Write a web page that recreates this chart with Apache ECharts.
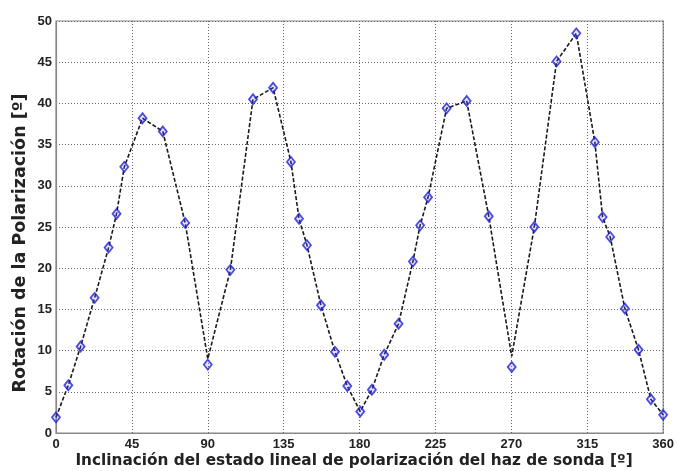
<!DOCTYPE html>
<html><head><meta charset="utf-8">
<script src="https://cdn.jsdelivr.net/npm/echarts@6/dist/echarts.min.js"></script>
<style>html,body{margin:0;padding:0;background:#fff}#c{width:677px;height:471px}</style>
</head><body><div id="c"></div>
<script>
const angles = [0, 7.3, 14.6, 22.9, 31.2, 35.9, 40.5, 51.3, 63.3, 76.6, 90, 103.4, 116.8, 128.7, 139.3, 144.1, 148.8, 157.1, 165.4, 172.7, 180.4, 187.3, 194.6, 203.1, 211.6, 215.9, 220.6, 231.6, 243.5, 256.6, 270.2, 283.6, 296.8, 308.5, 319.5, 324.1, 328.6, 337.3, 345.4, 352.7, 360];
const rotation = [1.9, 5.8, 10.5, 16.4, 22.5, 26.6, 32.3, 38.2, 36.6, 25.5, 8.3, 19.8, 40.5, 41.9, 32.9, 26.0, 22.8, 15.5, 9.85, 5.7, 2.6, 5.25, 9.5, 13.25, 20.8, 25.2, 28.6, 39.4, 40.3, 26.3, 8.0, 25.0, 45.1, 48.5, 35.3, 26.2, 23.8, 15.1, 10.1, 4.1, 2.2];
const lineRotation = [1.9, 5.8, 10.5, 16.4, 22.5, 26.6, 32.3, 38.2, 36.6, 25.5, 9.0, 19.8, 40.5, 41.9, 32.9, 26.0, 22.8, 15.5, 9.85, 5.7, 2.6, 5.25, 9.5, 13.25, 20.8, 25.2, 28.6, 39.4, 40.3, 26.3, 9.3, 25.0, 45.1, 48.5, 35.3, 26.2, 23.8, 15.1, 10.1, 4.1, 2.2];
const xTicks = [0, 45, 90, 135, 180, 225, 270, 315, 360];
const yTicks = [0, 5, 10, 15, 20, 25, 30, 35, 40, 45, 50];
const xTitle = 'Inclinación del estado lineal de polarización del haz de sonda [º]';
const yTitle = 'Rotación de la Polarización [º]';

const chart = echarts.init(document.getElementById('c'));
const font = 'Liberation Sans, Arial, sans-serif';
const titleFont = 'DejaVu Sans, sans-serif';
const splitStyle = {show: true, lineStyle: {color: '#666', type: [1, 2], width: 1}};
chart.setOption({
  animation: false,
  grid: {left: 56, right: 12, top: 21, bottom: 38, show: true, borderColor: '#888', borderWidth: 1.2},
  xAxis: {
    type: 'value', min: 0, max: 360, interval: 45,
    axisLine: {show: true, lineStyle: {color: '#888', width: 1.2}},
    axisTick: {show: false},
    axisLabel: {fontFamily: font, fontWeight: 'bold', fontSize: 13, color: '#222', margin: 5,
      formatter: v => xTicks.includes(v) ? String(v) : ''},
    splitLine: splitStyle
  },
  yAxis: {
    type: 'value', min: 0, max: 50, interval: 5,
    axisLine: {show: true, lineStyle: {color: '#888', width: 1.2}},
    axisTick: {show: false},
    axisLabel: {fontFamily: font, fontWeight: 'bold', fontSize: 13, color: '#222', margin: 4,
      formatter: v => yTicks.includes(v) ? String(v) : ''},
    splitLine: splitStyle
  },
  graphic: [
    {type: 'text', x: 354, y: 461, style: {text: xTitle, font: 'bold 15.3px ' + titleFont, fill: '#222', align: 'center', verticalAlign: 'middle'}},
    {type: 'text', x: 20, y: 243, rotation: Math.PI / 2, style: {text: yTitle, font: 'bold 17.5px ' + titleFont, fill: '#222', align: 'center', verticalAlign: 'middle'}}
  ],
  series: [
    {
      type: 'line', data: angles.map((a, i) => [a, lineRotation[i]]),
      showSymbol: false, symbol: 'none',
      lineStyle: {color: '#1a1a1a', width: 1.6, type: [4, 2]}, z: 2
    },
    {
      type: 'scatter', data: angles.map((a, i) => [a, rotation[i]]),
      symbol: 'diamond', symbolSize: [8, 10],
      itemStyle: {color: 'rgba(120,120,255,0.25)', borderColor: '#2020d8', borderWidth: 1.8}, z: 3
    }
  ]
});
</script></body></html>
